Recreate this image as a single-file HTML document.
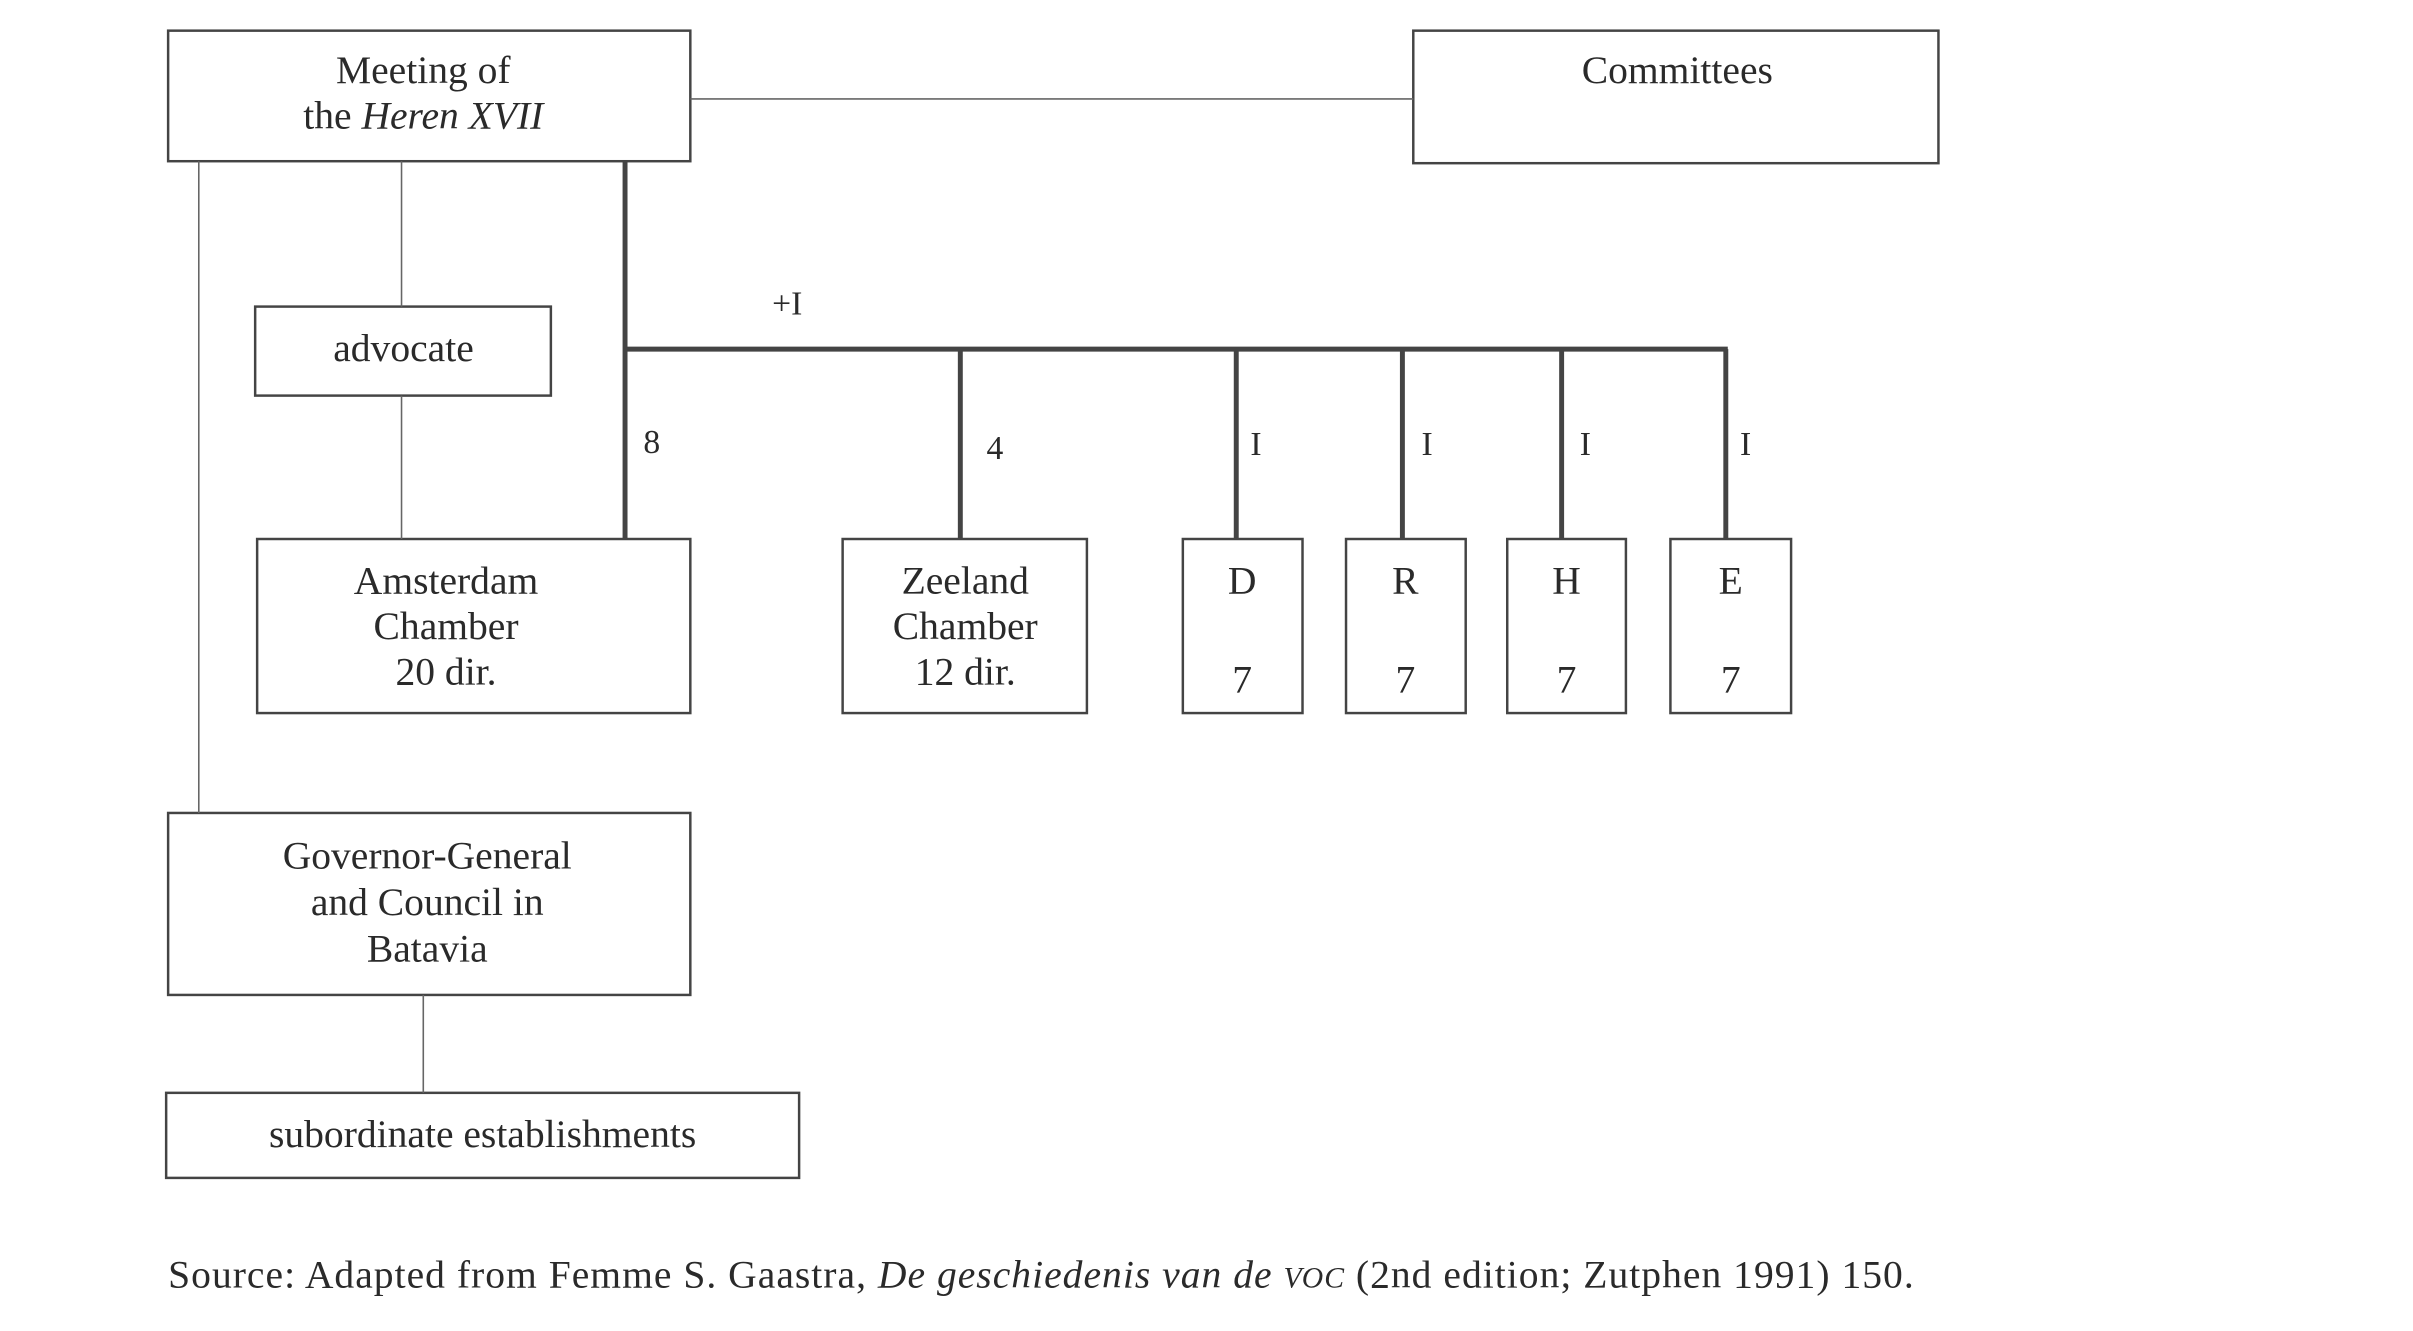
<!DOCTYPE html>
<html><head><meta charset="utf-8"><style>
html,body{margin:0;padding:0;background:#fff;}
svg{display:block}
text{font-family:"Liberation Serif",serif;fill:#2a2a2a;}
</style></head><body>
<svg width="2413" height="1331" viewBox="0 0 2413 1331" xmlns="http://www.w3.org/2000/svg">
<g transform="scale(0.989)">
<g fill="none" stroke="#444" stroke-width="2.5">
<rect x="170" y="31" width="528" height="132"/>
<rect x="1429" y="31" width="531" height="134"/>
<rect x="258" y="310" width="299" height="90"/>
<rect x="260" y="545" width="438" height="176"/>
<rect x="852" y="545" width="247" height="176"/>
<rect x="1196" y="545" width="121" height="176"/>
<rect x="1361" y="545" width="121" height="176"/>
<rect x="1524" y="545" width="120" height="176"/>
<rect x="1689" y="545" width="122" height="176"/>
<rect x="170" y="822" width="528" height="184"/>
<rect x="168" y="1105" width="640" height="86"/>
</g>
<g stroke="#666" stroke-width="1.6">
<line x1="698" y1="100" x2="1429" y2="100"/>
<line x1="201" y1="163" x2="201" y2="822"/>
<line x1="406" y1="163" x2="406" y2="310"/>
<line x1="406" y1="400" x2="406" y2="545"/>
<line x1="428" y1="1006" x2="428" y2="1105"/>
</g>
<g stroke="#444" stroke-width="5">
<line x1="632" y1="163" x2="632" y2="545"/>
<line x1="630" y1="353" x2="1747" y2="353"/>
<line x1="971" y1="353" x2="971" y2="545"/>
<line x1="1250" y1="353" x2="1250" y2="545"/>
<line x1="1418" y1="353" x2="1418" y2="545"/>
<line x1="1579" y1="353" x2="1579" y2="545"/>
<line x1="1745" y1="353" x2="1745" y2="545"/>
</g>
<g font-size="40" text-anchor="middle">
<text x="428" y="84">Meeting of</text>
<text x="428" y="130">the <tspan font-style="italic">Heren XVII</tspan></text>
<text x="1696" y="84">Committees</text>
<text x="408" y="365">advocate</text>
<text x="451" y="600">Amsterdam</text>
<text x="451" y="646">Chamber</text>
<text x="451" y="692">20 dir.</text>
<text x="976" y="600">Zeeland</text>
<text x="976" y="646">Chamber</text>
<text x="976" y="692">12 dir.</text>
<text x="1256" y="600">D</text><text x="1256" y="700">7</text>
<text x="1421" y="600">R</text><text x="1421" y="700">7</text>
<text x="1584" y="600">H</text><text x="1584" y="700">7</text>
<text x="1750" y="600">E</text><text x="1750" y="700">7</text>
<text x="432" y="878">Governor-General</text>
<text x="432" y="925">and Council in</text>
<text x="432" y="972">Batavia</text>
<text x="488" y="1160">subordinate establishments</text>
</g>
<g font-size="34" text-anchor="middle">
<text x="796" y="318">+I</text>
<text x="659" y="458">8</text>
<text x="1006" y="464">4</text>
<text x="1270" y="460">I</text>
<text x="1443" y="460">I</text>
<text x="1603" y="460">I</text>
<text x="1765" y="460">I</text>
</g>
<text x="170" y="1302" font-size="40" textLength="1765" lengthAdjust="spacing">Source: Adapted from Femme S. Gaastra, <tspan font-style="italic">De geschiedenis van de</tspan> <tspan font-style="italic" font-size="30">VOC</tspan> (2nd edition; Zutphen 1991) 150.</text>
</g>
</svg>
</body></html>
